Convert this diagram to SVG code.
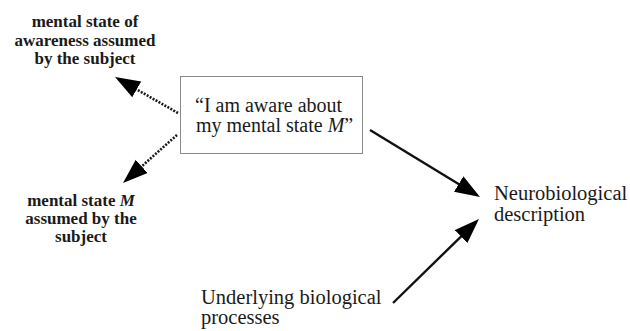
<svg xmlns="http://www.w3.org/2000/svg" width="630" height="331" viewBox="0 0 630 331" font-family="Liberation Serif, DejaVu Serif, serif">
<style>
text { font-family: 'Liberation Serif', 'DejaVu Serif', serif; fill: #1a1a1a; }
.lbl { font-size: 17px; font-weight: bold; text-anchor: middle; }
.reg { font-size: 20.5px; }
.box { fill: #fff; stroke: #8a8a8a; stroke-width: 1; }
.dot { stroke: #1a1a1a; stroke-width: 2.6; stroke-dasharray: 2 1.4; fill: none; }
.sol { stroke: #111; stroke-width: 2.4; fill: none; }
</style>
<defs>
<marker id="ah" markerUnits="userSpaceOnUse" markerWidth="26" markerHeight="20" viewBox="0 0 26 20" refX="21" refY="9" orient="auto">
<path d="M0,0 L25,9 L0,18 z" fill="#000"/>
</marker>
</defs>
<rect width="630" height="331" fill="#fff"/>
<g id="connectors">
<line class="dot" x1="178" y1="113" x2="118.5" y2="79" marker-end="url(#ah)"/>
<line class="dot" x1="177" y1="135" x2="126" y2="180.3" marker-end="url(#ah)"/>
<line class="sol" x1="370" y1="130" x2="476.6" y2="194.9" marker-end="url(#ah)"/>
<line class="sol" x1="393" y1="303" x2="476.1" y2="221.8" marker-end="url(#ah)"/>
</g>
<g id="awareness-state">
<text class="lbl" x="85" y="27">mental state of</text>
<text class="lbl" x="85" y="45.5">awareness assumed</text>
<text class="lbl" x="85" y="64">by the subject</text>
</g>
<g id="statement">
<rect class="box" x="180.5" y="76.5" width="182" height="77"/>
<text class="reg" x="195" y="112" style="font-size:20px">“I am aware about</text>
<text class="reg" x="196" y="132" style="font-size:20px">my mental state <tspan font-style="italic">M</tspan>”</text>
</g>
<g id="mental-state-m">
<text class="lbl" x="81" y="206">mental state <tspan font-style="italic">M</tspan></text>
<text class="lbl" x="81" y="224">assumed by the</text>
<text class="lbl" x="81" y="242">subject</text>
</g>
<g id="neurobiological">
<text class="reg" x="494" y="200">Neurobiological</text>
<text class="reg" x="494" y="220.5">description</text>
</g>
<g id="biological">
<text class="reg" x="201" y="303.5">Underlying biological</text>
<text class="reg" x="201" y="324">processes</text>
</g>
</svg>
